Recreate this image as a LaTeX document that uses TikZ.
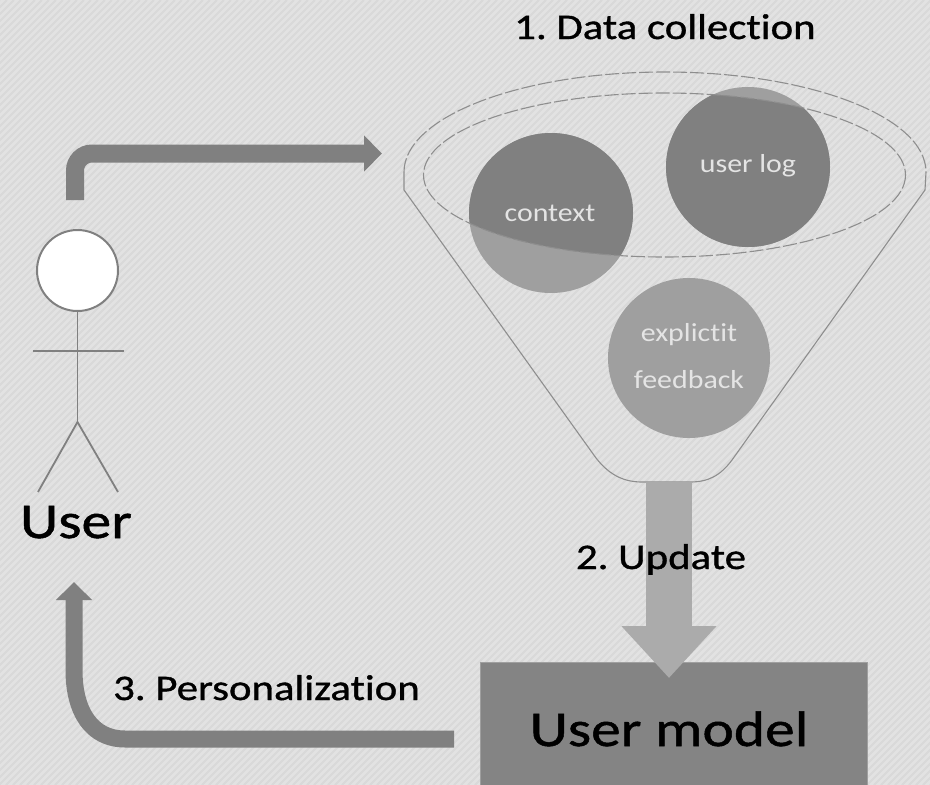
\documentclass[tikz,border=0pt]{standalone}
\usepackage{fontspec}
\setmainfont{Carlito}
\frenchspacing
\newfontfamily\labelfont[FakeStretch=1.19,FakeBold=1,Ligatures=NoCommon]{Carlito}
\newfontfamily\bubblefont[FakeStretch=1.15,Ligatures=NoCommon]{Carlito}
\usetikzlibrary{arrows.meta}
\definecolor{bgA}{HTML}{E2E2E2}
\definecolor{bgB}{HTML}{D9D9D9}
\definecolor{darkfill}{HTML}{808080}
\definecolor{lightfill}{HTML}{9F9F9F}
\definecolor{arrowlight}{HTML}{ABABAB}
\definecolor{boxfill}{HTML}{848484}
\definecolor{outline}{HTML}{8E8E8E}
\definecolor{innertext}{HTML}{E4E4E4}
\tikzset{
  x=1pt,y=-1pt,
  fatarrow/.style={draw=darkfill,line width=18pt,-{Triangle[width=35pt,length=18pt]},fill=none},
  bigarrow/.style={draw=arrowlight,line width=46pt,-{Triangle[width=92pt,length=52pt]}},
  funnelline/.style={draw=outline,line width=1.1pt},
  funneldash/.style={funnelline,dash pattern=on 14pt off 3pt},
  stick/.style={draw=darkfill,line width=1.8pt},
  bubbletext/.style={text=innertext,font=\bubblefont\fontsize{26}{28}\selectfont,align=center,inner sep=0pt},
  title/.style={text=black,font=\labelfont\fontsize{36}{38}\selectfont,inner sep=0pt},
  bigtitle/.style={text=black,font=\labelfont\fontsize{50}{52}\selectfont,inner sep=0pt},
}
\begin{document}
\begin{tikzpicture}
\useasboundingbox (0,0) rectangle (930,785);
\fill[bgA] (0,0) rectangle (930,785);
\begin{scope}
\clip (0,0) rectangle (930,785);
\foreach \s in {-785,-778,...,930} \draw[bgB,line width=2pt] ({\s},785) -- ({\s+785},0);
\end{scope}
% bubbles
\fill[lightfill] (551,213) ellipse [x radius=82,y radius=80];
\fill[lightfill] (748,167) ellipse [x radius=82,y radius=80];
\fill[lightfill] (689,358) ellipse [x radius=81,y radius=80];
\begin{scope}
\clip (664.5,175) ellipse [x radius=241,y radius=82];
\fill[darkfill] (551,213) ellipse [x radius=82,y radius=80];
\fill[darkfill] (748,167) ellipse [x radius=82,y radius=80];
\end{scope}
% funnel
\draw[funnelline] (404,172) -- (404,190) -- (596,458) .. controls (610,476) and (625,482) .. (642,482)
   -- (690,482) .. controls (708,482) and (720,476) .. (732,460) -- (925,190) -- (926,172);
\draw[funneldash] (404,172) arc[start angle=180,end angle=360,x radius=261,y radius=100];
\draw[funneldash] (664.5,175) ellipse [x radius=241,y radius=82];
% bubble labels
\node[bubbletext] (ctx) at (550,213) {context};
\node[bubbletext] (log) at (748,166) {user log};
\node[bubbletext] (fb1) at (689,335) {explictit};
\node[bubbletext] (fb2) at (689,380) {feedback};
% model
\node[draw=lightfill,line width=1pt,fill=boxfill,minimum width=387pt,minimum height=128pt,inner sep=0pt,anchor=north west] (model) at (480,662) {};
\node[bigtitle,anchor=base] (modeltext) at (669,746) {User model};
% connectors
\coordinate (funnelout) at (669,482);
\coordinate (modeltop) at (669,678);
\draw[bigarrow] (funnelout) -- (modeltop);
\coordinate (userup) at (75,200);
\coordinate (corner1) at (75,153.5);
\coordinate (funnelin) at (382,153.5);
\draw[fatarrow,rounded corners=17pt] (userup) -- (corner1) -- (funnelin);
\coordinate (modelout) at (454,739);
\coordinate (c2a) at (125,739);
\coordinate (c2b) at (74,670);
\coordinate (userin) at (74,582);
\draw[fatarrow,line width=17pt] (modelout) -- (c2a) .. controls (92,739) and (74,712) .. (c2b) -- (userin);
% stick user
\node[circle,draw=darkfill,line width=2pt,fill=white,minimum size=81pt,inner sep=0pt] (head) at (77.5,270.5) {};
\coordinate (hip) at (77.5,422);
\coordinate (armL) at (33,351);
\coordinate (armR) at (124,351);
\coordinate (footL) at (38,492);
\coordinate (footR) at (118,492);
\draw[stick] (head.south) -- (hip);
\draw[stick] (armL) -- (armR);
\draw[stick] (footL) -- (hip) -- (footR);
% labels
\node[bigtitle,anchor=base] (user) at (76,538) {User};
\node[title,anchor=base] (t1) at (665,39) {1. Data collection};
\node[title,anchor=base] (t2) at (661,569) {2. Update};
\node[title,anchor=base] (t3) at (266.5,700) {3. Personalization};
\end{tikzpicture}
\end{document}
